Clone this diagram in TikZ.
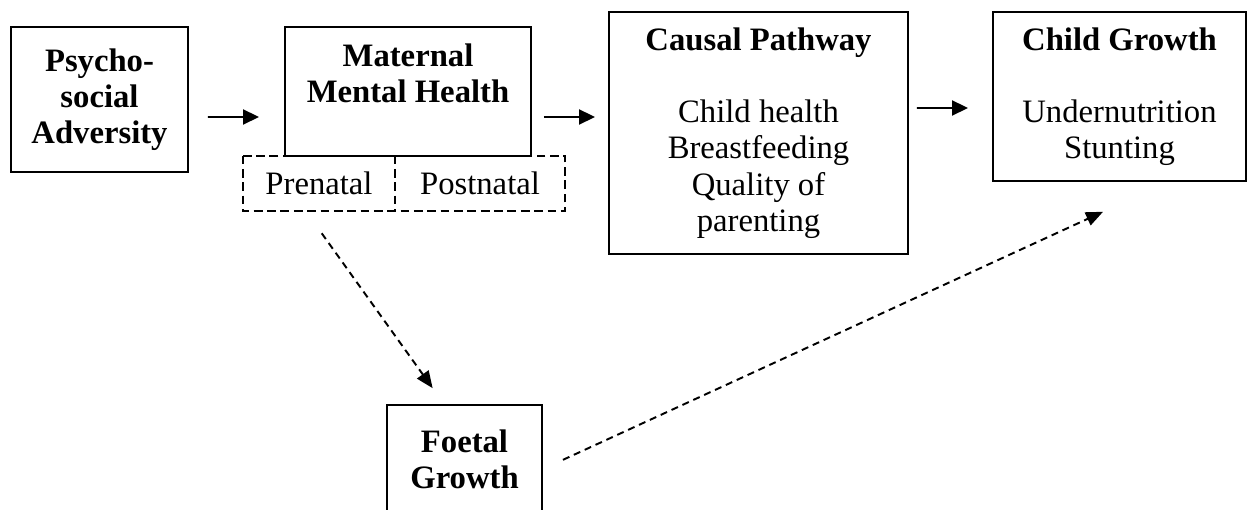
\documentclass[tikz,border=0pt]{standalone}
\usepackage{fontspec}
\setmainfont{Liberation Serif}
\usetikzlibrary{arrows.meta}

\tikzset{
    box/.style={draw, line width=1.1pt, inner sep=0pt, align=center},
    halfbox/.style={inner sep=0pt, align=center},
    split/.style={line width=1.1pt, dash pattern=on 5pt off 2.6pt},
    link/.style={line width=1.1pt, -{Triangle[length=0.32cm, width=0.3cm]}},
    maybe/.style={line width=1.1pt, dash pattern=on 4pt off 2.8pt, -{Triangle[length=0.34cm, width=0.28cm]}}
}

\begin{document}
\begin{tikzpicture}[font=\fontsize{18.6}{20.6}\selectfont]
    \useasboundingbox (0, 0) rectangle (24.98, -10.2);
    \clip (0, 0) rectangle (24.98, -10.2);
    \path ( 1.99, -1.99) node [box, minimum width=3.54cm, minimum height=2.9cm]
        (adversity) {\textbf{Psycho-}\\\textbf{social}\\\textbf{Adversity}};
    \path ( 6.38, -3.67) node [halfbox, minimum width=3.04cm, minimum height=1.1cm] (prenatal) {Prenatal};
    \path ( 9.60, -3.67) node [halfbox, minimum width=3.40cm, minimum height=1.1cm] (postnatal) {Postnatal};
    \draw [split] (prenatal.north west) rectangle (postnatal.south east);
    \draw [split] (prenatal.north east) -- (prenatal.south east);
    \path ( 8.16, -1.83) node [box, fill=white, minimum width=4.92cm, minimum height=2.58cm]
        (maternal) {\textbf{Maternal}\\\textbf{Mental Health}\\~};
    \path (15.17, -2.66) node [box, minimum width=5.98cm, minimum height=4.84cm]
        (pathway) {\textbf{Causal Pathway}\\~\\Child health\\Breastfeeding\\Quality of\\parenting};
    \path (22.39, -1.93) node [box, minimum width=5.06cm, minimum height=3.38cm]
        (child) {\textbf{Child Growth}\\~\\Undernutrition\\Stunting};
    \path ( 9.29, -9.55) node [box, minimum width=3.10cm, minimum height=2.9cm]
        (foetal) {\textbf{Foetal}\\\textbf{Growth}\\~};
    \draw [link, shorten <=0.38cm, shorten >=0.5cm]
        ([yshift=-0.35cm]adversity.east) -- ([yshift=-0.51cm]maternal.west);
    \draw [link, shorten <=0.24cm, shorten >=0.26cm]
        ([yshift=-0.51cm]maternal.east) -- ([yshift=0.32cm]pathway.west);
    \draw [link, shorten <=0.16cm, shorten >=0.48cm]
        ([yshift=0.5cm]pathway.east) -- ([yshift=-0.23cm]child.west);
    \draw [maybe, shorten <=0.54cm, shorten >=0.39cm]
        ([xshift=-0.26cm]prenatal.south) -- ([xshift=-0.41cm]foetal.north);
    \draw [maybe, shorten <=0.44cm, shorten >=1.43cm]
        ([yshift=0.17cm]foetal.east) -- ([xshift=0.97cm]child.south);
\end{tikzpicture}
\end{document}
